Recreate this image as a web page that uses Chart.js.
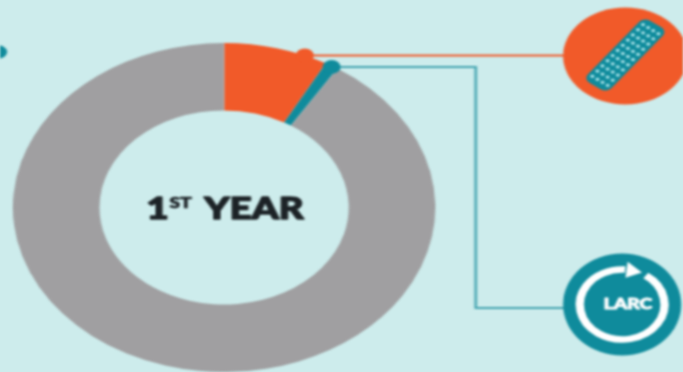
<!DOCTYPE html>
<html>
<head>
<meta charset="utf-8">
<style>
    html, body { margin: 0; padding: 0; width: 683px; height: 372px; overflow: hidden; background: #cdecec; }
    #chart { display: block; transform-origin: 0 0; transform: scaleX(1.284); filter: blur(0.8px); }
</style>
</head>
<body>
<canvas id="chart" width="532" height="372"></canvas>
<script src="https://cdn.jsdelivr.net/npm/chart.js@4/dist/chart.umd.min.js"></script>
<script>
// Data
const categories = ["Pill", "LARC", "Other"];
const shares = [8, 1, 91];
const sliceColors = ["#f15a29", "#0f8b9c", "#a09fa1"];

const centerTitle = ["1", "ST", "YEAR"];
const larcLabel = "LARC";

const ORANGE = "#f15a29";
const TEAL = "#0f8b9c";
const TEAL_LINE = "#45a5b1";
const TEXT_DARK = "#1c2226";
const FONT = "Lato, 'Open Sans', sans-serif";

const drawDot = (ctx, x, y, r, color) => {
    ctx.fillStyle = color;
    ctx.beginPath();
    ctx.arc(x, y, r, 0, Math.PI * 2);
    ctx.fill();
};

// point on the outer edge of a slice, t = 0..1 along the slice
const pointOnSlice = (arc, t) => {
    const a = arc.startAngle + (arc.endAngle - arc.startAngle) * t;
    return { x: arc.x + Math.cos(a) * arc.outerRadius, y: arc.y + Math.sin(a) * arc.outerRadius };
};

// text with a thin outline, the source lettering is heavier than Lato bold
const heavyText = (ctx, text, x, y, weight) => {
    ctx.lineWidth = weight;
    ctx.lineJoin = "round";
    ctx.strokeStyle = ctx.fillStyle;
    ctx.strokeText(text, x, y);
    ctx.fillText(text, x, y);
};

const drawPillIcon = (ctx) => {
    ctx.fillStyle = ORANGE;
    ctx.beginPath();
    ctx.arc(487, 56, 48.5, 0, Math.PI * 2);
    ctx.fill();

    ctx.save();
    ctx.translate(487, 55);
    ctx.rotate(-52.6 * Math.PI / 180);
    ctx.fillStyle = TEAL;
    ctx.beginPath();
    ctx.roundRect(-39, -11.5, 78, 23, 6);
    ctx.fill();
    ctx.fillStyle = "#b5e9ee";
    for (let col = 0; col < 11; col++) {
        for (let row = 0; row < 4; row++) {
            ctx.beginPath();
            ctx.arc(-32.5 + col * 6.5, -7.5 + row * 5, 1.5, 0, Math.PI * 2);
            ctx.fill();
        }
    }
    ctx.restore();
};

const drawLarcIcon = (ctx) => {
    const cx = 484.5, cy = 304.5;
    const rx = 33, ry = 35;
    ctx.fillStyle = TEAL;
    ctx.beginPath();
    ctx.ellipse(cx, cy, 46, 51, 0, 0, Math.PI * 2);
    ctx.fill();

    const rad = (d) => d * Math.PI / 180;
    ctx.strokeStyle = "#ffffff";
    ctx.lineWidth = 6.5;
    ctx.beginPath();
    ctx.ellipse(cx, cy, rx, ry, 0, rad(-56), rad(-86));
    ctx.stroke();

    // arrow head
    const at = (deg, grow) => [cx + Math.cos(rad(deg)) * (rx + grow), cy + Math.sin(rad(deg)) * (ry + grow)];
    ctx.fillStyle = "#ffffff";
    ctx.beginPath();
    ctx.moveTo(...at(-63, 1));
    ctx.lineTo(...at(-84, 8));
    ctx.lineTo(...at(-84, -8));
    ctx.closePath();
    ctx.fill();

    ctx.font = "900 15px " + FONT;
    ctx.textAlign = "center";
    ctx.textBaseline = "middle";
    heavyText(ctx, larcLabel, 489, 304, 0.8);
};

const drawCenterTitle = (ctx) => {
    ctx.fillStyle = TEXT_DARK;
    ctx.textAlign = "left";
    ctx.textBaseline = "alphabetic";
    ctx.font = "900 30px " + FONT;
    heavyText(ctx, centerTitle[0], 114, 219, 1.4);
    heavyText(ctx, centerTitle[2], 159, 219, 1.4);
    ctx.font = "900 15px " + FONT;
    heavyText(ctx, centerTitle[1], 132, 208, 0.6);
};

// Connectors, dots, icons and the title sit on top of the doughnut
const overlayPlugin = {
    id: "overlay",
    afterDatasetsDraw(chart) {
        const ctx = chart.ctx;
        const arcs = chart.getDatasetMeta(0).data;
        const pillDot = pointOnSlice(arcs[0], 0.78);
        const larcDot = pointOnSlice(arcs[1], 0.5);

        ctx.save();
        ctx.lineWidth = 2;

        ctx.strokeStyle = ORANGE;
        ctx.beginPath();
        ctx.moveTo(pillDot.x, pillDot.y);
        ctx.lineTo(445, pillDot.y);
        ctx.stroke();

        ctx.strokeStyle = TEAL_LINE;
        ctx.beginPath();
        ctx.moveTo(larcDot.x, larcDot.y + 1);
        ctx.lineTo(370.5, larcDot.y + 1);
        ctx.lineTo(370.5, 308);
        ctx.lineTo(445, 308);
        ctx.stroke();

        drawDot(ctx, pillDot.x, pillDot.y, 7, ORANGE);
        drawDot(ctx, larcDot.x, larcDot.y + 1, 7, TEAL);
        drawDot(ctx, -1, 52, 6.5, TEAL);

        drawPillIcon(ctx);
        drawLarcIcon(ctx);
        drawCenterTitle(ctx);
        ctx.restore();
    },
};

new Chart(document.getElementById("chart"), {
    type: "doughnut",
    data: {
        labels: categories,
        datasets: [
            {
                data: shares,
                backgroundColor: sliceColors,
                borderWidth: 0,
            },
        ],
    },
    options: {
        responsive: false,
        animation: false,
        cutout: "59%",
        layout: {
            padding: { left: 9.5, right: 192.5, top: 43, bottom: -1 },
        },
        plugins: {
            legend: { display: false },
            tooltip: { enabled: false },
        },
    },
    plugins: [overlayPlugin],
});
</script>
</body>
</html>
